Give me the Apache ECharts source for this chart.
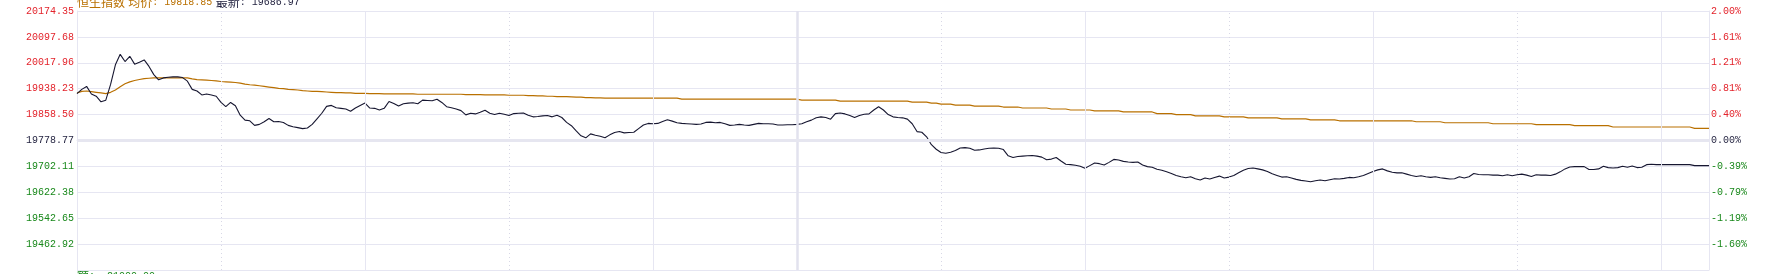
<!DOCTYPE html>
<html>
<head>
<meta charset="utf-8">
<script src="https://cdn.jsdelivr.net/npm/echarts@6/dist/echarts.min.js"></script>
<style>
html,body{margin:0;padding:0;background:#fff;}
#chart{width:1774px;height:274px;}
</style>
</head>
<body>
<div id="chart"></div>
<script>
// ---------- data ----------
const PREV_CLOSE = 19778.77;
const leftLabels = ['20174.35','20097.68','20017.96','19938.23','19858.50','19778.77','19702.11','19622.38','19542.65','19462.92',''];
const rightLabels = ['2.00%','1.61%','1.21%','0.81%','0.40%','0.00%','-0.39%','-0.79%','-1.19%','-1.60%',''];
const headerName = '恒生指数';
const headerAvgLabel = '均价';
const headerAvg = '19818.85';
const headerLastLabel = '最新';
const headerLast = '19686.97';
const footerLabel = '额';
const footerValue = '21000.00';

const priceValues = [
19922,19935,19944,19921,19914,19897,19902,19950,20010,20042,
20020,20036,20012,20018,20025,20005,19980,19964,19970,19972,
19973,19973,19971,19960,19935,19930,19918,19921,19918,19914,
19895,19882,19895,19885,19856,19841,19839,19825,19828,19836,
19846,19836,19837,19834,19825,19821,19818,19815,19817,19828,
19845,19862,19883,19886,19879,19877,19875,19868,19878,19886,
19893,19878,19877,19872,19877,19898,19892,19884,19891,19893,
19894,19891,19902,19901,19900,19905,19895,19882,19879,19875,
19870,19857,19862,19860,19865,19871,19862,19858,19862,19859,
19855,19861,19862,19863,19856,19851,19852,19854,19855,19851,
19856,19849,19834,19824,19808,19793,19787,19799,19795,19792,
19787,19796,19803,19806,19802,19803,19804,19815,19826,19831,
19830,19831,19837,19842,19838,19833,19831,19830,19829,19828,
19829,19834,19835,19833,19834,19830,19825,19826,19828,19826,
19825,19828,19831,19830,19830,19829,19826,19826,19827,19827,
19828,19830,19836,19841,19848,19851,19849,19844,19861,19863,
19860,19855,19849,19855,19859,19860,19872,19882,19872,19858,
19851,19849,19848,19844,19830,19806,19804,19790,19766,19752,
19742,19740,19743,19748,19756,19757,19755,19749,19750,19753,
19755,19756,19755,19751,19732,19727,19730,19731,19732,19733,
19731,19728,19720,19722,19727,19716,19706,19705,19703,19700,
19694,19702,19710,19708,19704,19712,19721,19719,19715,19713,
19712,19713,19704,19699,19697,19691,19688,19683,19678,19672,
19668,19665,19668,19662,19658,19664,19661,19666,19670,19664,
19667,19672,19680,19688,19693,19695,19692,19689,19684,19677,
19672,19667,19668,19664,19660,19657,19655,19653,19656,19658,
19656,19659,19662,19661,19663,19666,19665,19668,19672,19678,
19684,19689,19692,19686,19682,19680,19680,19676,19672,19669,
19671,19668,19666,19668,19665,19663,19661,19662,19668,19664,
19668,19678,19675,19674,19674,19673,19673,19671,19674,19671,
19674,19676,19673,19669,19674,19673,19673,19672,19676,19683,
19692,19698,19699,19699,19699,19690,19690,19692,19700,19696,
19695,19696,19700,19697,19701,19696,19697,19705,19706,19705,
19705,19705,19705,19705,19705,19705,19705,19702,19702,19702,
19702
];

const avgValues = [
19924,19929,19930,19928,19926,19924,19922,19926,19933,19943,
19952,19958,19962,19965,19968,19969,19970,19970,19970,19970,
19970,19970,19970,19970,19967,19965,19964,19963,19962,19961,
19959,19958,19957,19956,19954,19951,19949,19948,19946,19944,
19942,19940,19938,19937,19935,19934,19933,19931,19930,19929,
19929,19928,19927,19926,19925,19925,19924,19924,19923,19923,
19923,19922,19922,19922,19921,19921,19921,19921,19921,19921,
19921,19920,19920,19920,19920,19920,19920,19920,19920,19920,
19920,19919,19919,19919,19919,19918,19918,19918,19918,19918,
19917,19917,19917,19917,19916,19916,19915,19915,19914,19914,
19913,19913,19913,19912,19911,19911,19910,19910,19909,19909,
19908,19908,19908,19908,19908,19908,19908,19908,19908,19908,
19908,19908,19908,19908,19908,19908,19905,19905,19905,19905,
19905,19905,19905,19905,19905,19905,19905,19905,19905,19905,
19905,19905,19905,19905,19905,19905,19905,19905,19905,19905,
19905,19902,19902,19902,19902,19902,19902,19902,19902,19899,
19899,19899,19899,19899,19899,19899,19899,19899,19899,19899,
19899,19899,19899,19899,19896,19896,19896,19896,19893,19893,
19890,19890,19890,19887,19887,19887,19887,19884,19884,19884,
19884,19884,19884,19881,19881,19881,19881,19878,19878,19878,
19878,19878,19878,19875,19875,19875,19875,19872,19872,19872,
19872,19872,19869,19869,19869,19869,19869,19869,19866,19866,
19866,19866,19866,19866,19866,19861,19861,19861,19861,19858,
19858,19858,19858,19854,19854,19854,19854,19854,19854,19851,
19851,19851,19851,19851,19848,19848,19848,19848,19848,19848,
19848,19845,19845,19845,19845,19845,19845,19842,19842,19842,
19842,19842,19842,19839,19839,19839,19839,19839,19839,19839,
19839,19839,19839,19839,19839,19839,19839,19839,19839,19836,
19836,19836,19836,19836,19836,19833,19833,19833,19833,19833,
19833,19833,19833,19833,19833,19830,19830,19830,19830,19830,
19830,19830,19830,19830,19827,19827,19827,19827,19827,19827,
19827,19827,19824,19824,19824,19824,19824,19824,19824,19824,
19820,19820,19820,19820,19820,19820,19820,19820,19820,19820,
19820,19820,19820,19820,19820,19820,19820,19816,19816,19816,
19816
];

const dottedTimes = ['10:00','11:00','13:30','14:30','15:30'];
const solidTimes = ['10:30','11:30','14:00','15:00','16:00'];
const breakTime = '12:00';

// minute categories: 09:30-12:00, 13:01-16:10
function pad(n){return (n<10?'0':'')+n;}
const times = [];
for (let m = 9*60+30; m <= 12*60; m++) times.push(pad(Math.floor(m/60))+':'+pad(m%60));
for (let m = 13*60+1; m <= 16*60+10; m++) times.push(pad(Math.floor(m/60))+':'+pad(m%60));

// ---------- chart ----------
const toPct = p => (p - PREV_CLOSE) / PREV_CLOSE * 100;
const chart = echarts.init(document.getElementById('chart'), null, {renderer:'canvas'});

const RED = '#e3232b', GREEN = '#18881a', DARK = '#1f1f3d', ORANGE = '#b97000', LINE = '#161630';
const GRIDC = '#e6e6f2';
const labelRich = {
  up:{color:RED, fontFamily:'Liberation Mono', fontSize:10},
  zero:{color:DARK, fontFamily:'Liberation Mono', fontSize:10},
  dn:{color:GREEN, fontFamily:'Liberation Mono', fontSize:10}
};
function tickIndex(v){return Math.round((v + 2) / 0.4);}
function styleFor(k){return k > 5 ? 'up' : (k < 5 ? 'dn' : 'zero');}

const vLines = [];
dottedTimes.forEach(t => vLines.push({xAxis:t, lineStyle:{type:[1,3], color:'#d8d8e6', width:1}}));
solidTimes.forEach(t => vLines.push({xAxis:t, lineStyle:{type:'solid', color:GRIDC, width:1}}));
vLines.push({xAxis:breakTime, lineStyle:{type:'solid', color:'#e2e2ee', width:2.5}});

chart.setOption({
  animation:false,
  backgroundColor:'#ffffff',
  grid:{left:77, right:65, top:11, bottom:4, containLabel:false},
  xAxis:{
    type:'category', data:times, boundaryGap:false,
    axisLine:{show:true, lineStyle:{color:GRIDC, width:1}},
    axisTick:{show:false}, axisLabel:{show:false}, splitLine:{show:false}
  },
  yAxis:[
    {
      type:'value', position:'left', min:-2, max:2, interval:0.4,
      axisLine:{show:true, lineStyle:{color:GRIDC}},
      axisTick:{show:false},
      splitLine:{show:true, lineStyle:{color:GRIDC, width:1}},
      axisLabel:{
        margin:3,
        formatter:function(v){const k = tickIndex(v); const t = leftLabels[10-k]; return t ? '{'+styleFor(k)+'|'+t+'}' : '';},
        rich:labelRich
      }
    },
    {
      type:'value', position:'right', min:-2, max:2, interval:0.4,
      axisLine:{show:true, lineStyle:{color:GRIDC}},
      axisTick:{show:false},
      splitLine:{show:false},
      axisLabel:{
        margin:2,
        formatter:function(v){const k = tickIndex(v); const t = rightLabels[10-k]; return t ? '{'+styleFor(k)+'|'+t+'}' : '';},
        rich:labelRich
      }
    }
  ],
  series:[
    {
      type:'line', name:'均价', data:avgValues.map(toPct), yAxisIndex:0,
      showSymbol:false, symbol:'none',
      lineStyle:{color:ORANGE, width:1.2}, itemStyle:{color:ORANGE},
      markLine:{
        silent:true, symbol:['none','none'], label:{show:false},
        data: vLines.concat([{yAxis:0, lineStyle:{type:'solid', color:'#e6e6f0', width:3}}])
      },
      z:3
    },
    {
      type:'line', name:'最新', data:priceValues.map(toPct), yAxisIndex:0,
      showSymbol:false, symbol:'none',
      lineStyle:{color:LINE, width:1.1}, itemStyle:{color:LINE},
      z:4
    }
  ],
  graphic:[
    {
      type:'text', left:77, top:-4, silent:true,
      style:{
        text:'{c|'+headerName+'} {c|'+headerAvgLabel+'}{n|: '+headerAvg+'} {cd|'+headerLastLabel+'}{nd|: '+headerLast+'}',
        rich:{
          c:{fill:ORANGE, fontFamily:'Noto Sans CJK SC', fontSize:12},
          n:{fill:ORANGE, fontFamily:'Liberation Mono', fontSize:10},
          cd:{fill:DARK, fontFamily:'Noto Sans CJK SC', fontSize:12},
          nd:{fill:DARK, fontFamily:'Liberation Mono', fontSize:10}
        }
      }
    },
    {
      type:'text', left:77, top:270, silent:true,
      style:{
        text:'{c|'+footerLabel+'}{n|:  '+footerValue+'}',
        rich:{
          c:{fill:GREEN, fontFamily:'Noto Sans CJK SC', fontSize:12},
          n:{fill:GREEN, fontFamily:'Liberation Mono', fontSize:10}
        }
      }
    }
  ]
});
</script>
</body>
</html>
